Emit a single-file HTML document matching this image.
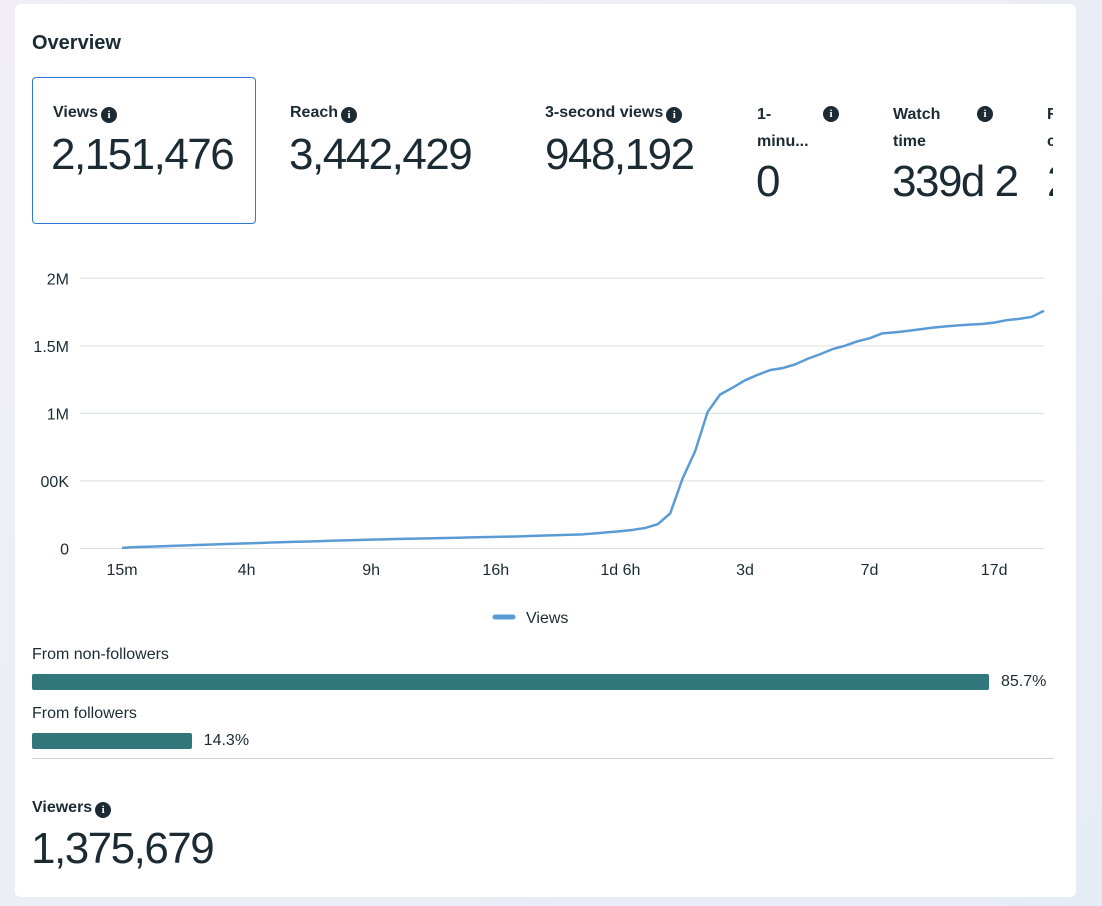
<!DOCTYPE html>
<html><head><meta charset="utf-8"><style>
body{margin:0;width:1102px;height:906px;overflow:hidden;background:linear-gradient(135deg,#f1eef5,#e6ecf6);font-family:"Liberation Sans",sans-serif;color:#1c2b33;position:relative}
.card{position:absolute;left:15px;top:4px;width:1061px;height:893px;background:#fff;border-radius:6px;overflow:hidden}
.clip{position:absolute;left:0;top:0;width:1038px;height:240px;overflow:hidden}
.a{position:absolute;white-space:nowrap}
.lbl{font-size:16px;font-weight:bold}
.num{font-size:44px;font-weight:normal;letter-spacing:-1.5px}
.i{display:inline-block;width:16px;height:16px;border-radius:50%;background:#1c2b33;color:#fff;font-size:11px;font-weight:bold;text-align:center;line-height:16px;font-family:"Liberation Serif",serif;vertical-align:-1px;margin-left:3px}
</style></head><body>
<div class="card">
<div class="a" style="left:17px;top:28px;font-size:20px;font-weight:bold">Overview</div>
<div class="clip">
<div class="a" style="left:17px;top:73px;width:222px;height:145px;border:1px solid #2d7ad6;border-radius:4px"></div>
<div class="a lbl" style="left:38px;top:100px">Views<span class="i">i</span></div>
<div class="a num" style="left:36px;top:126px">2,151,476</div>
<div class="a lbl" style="left:275px;top:100px">Reach<span class="i">i</span></div>
<div class="a num" style="left:274px;top:126px">3,442,429</div>
<div class="a lbl" style="left:530px;top:100px">3-second views<span class="i">i</span></div>
<div class="a num" style="left:530px;top:126px">948,192</div>
<div class="a lbl" style="left:742px;top:97px;line-height:27px">1-<br>minu...</div>
<div class="a" style="left:805px;top:99px"><span class="i">i</span></div>
<div class="a num" style="left:741px;top:153px">0</div>
<div class="a lbl" style="left:878px;top:97px;line-height:27px">Watch<br>time</div>
<div class="a" style="left:959px;top:99px"><span class="i">i</span></div>
<div class="a num" style="left:877px;top:153px">339d 2</div>
<div class="a lbl" style="left:1032px;top:97px;line-height:27px">R<br>c</div>
<div class="a num" style="left:1032px;top:153px">2</div>
</div>
</div>
<svg id="chart" class="a" style="left:0;top:0" width="1102" height="906"></svg>
<div class="a" style="left:32px;top:646px;font-size:16px">From non-followers</div>
<div class="a" style="left:32px;top:705px;font-size:16px">From followers</div>
<div id="bars"></div>
<div class="a" style="left:32px;top:758px;width:1022px;height:1px;background:#cfd3d8"></div>
<div class="a lbl" style="left:32px;top:799px">Viewers<span class="i">i</span></div>
<div class="a num" style="left:31px;top:824px">1,375,679</div>
<script>
const values=[0.005,0.010,0.013,0.016,0.019,0.022,0.026,0.029,0.032,0.035,0.038,0.041,0.044,0.047,0.050,0.052,0.055,0.058,0.060,0.063,0.066,0.068,0.070,0.072,0.074,0.076,0.078,0.080,0.082,0.084,0.086,0.088,0.090,0.093,0.096,0.099,0.102,0.105,0.112,0.120,0.128,0.138,0.152,0.180,0.26,0.52,0.72,1.01,1.14,1.19,1.245,1.285,1.32,1.335,1.362,1.403,1.437,1.475,1.500,1.533,1.556,1.592,1.600,1.610,1.622,1.634,1.643,1.651,1.657,1.662,1.672,1.690,1.700,1.714,1.760];
const yTicks=[0,0.5,1,1.5,2];
const yTickLabels=["0","00K","1M","1.5M","2M"];
const xTickIdx=[0,10,20,30,40,50,60,70];
const xTickLabels=["15m","4h","9h","16h","1d 6h","3d","7d","17d"];
const barLabels=["non-followers","followers"];
const barValues=[85.7,14.3];
const ns="http://www.w3.org/2000/svg";
const svg=document.getElementById('chart');
const x=i=>122+i*(1044-122)/(values.length-1);
const y=v=>548.5-v*135.1;
function mk(t,a){const e=document.createElementNS(ns,t);for(const k in a)e.setAttribute(k,a[k]);svg.appendChild(e);return e;}
yTicks.forEach((v,k)=>{
 const g=mk('line',{x1:80,x2:1044,y1:y(v),y2:y(v),stroke:'#dadde1','stroke-width':1});
 
 
 const t=mk('text',{x:69,y:y(v)+6,'text-anchor':'end','font-size':16,fill:'#1c2b33','font-family':'Liberation Sans'});
 t.textContent=yTickLabels[k];
 
 
});
xTickIdx.forEach((i,k)=>{
 const t=mk('text',{x:x(i),y:575,'text-anchor':'middle','font-size':16,fill:'#1c2b33','font-family':'Liberation Sans'});
 t.textContent=xTickLabels[k];
 
 
});
const p=mk('polyline',{points:values.map((v,i)=>x(i)+','+y(v)).join(' '),fill:'none',stroke:'#5b9bd5','stroke-width':2.5,'stroke-linejoin':'round'});


const lg=mk('line',{x1:495,x2:513,y1:617,y2:617,stroke:'#5b9bd5','stroke-width':5,'stroke-linecap':'round'});


const lt=mk('text',{x:526,y:623,'font-size':16,fill:'#1c2b33','font-family':'Liberation Sans'});
lt.textContent='Views';


const pxPer=957/85.7;
const bars=document.getElementById('bars');
barValues.forEach((v,k)=>{
 const top=[674,733][k];
 const b=document.createElement('div');
 b.className='a';
 b.style.cssText=`left:32px;top:${top}px;width:${v*pxPer}px;height:16px;background:#32777b;border-radius:2px`;
 
 
 bars.appendChild(b);
 const t=document.createElement('div');
 t.className='a';
 t.style.cssText=`left:${32+v*pxPer+12}px;top:${top-1}px;font-size:16px`;
 t.textContent=v.toFixed(1)+'%';
 
 
 bars.appendChild(t);
});
</script>
</body></html>
